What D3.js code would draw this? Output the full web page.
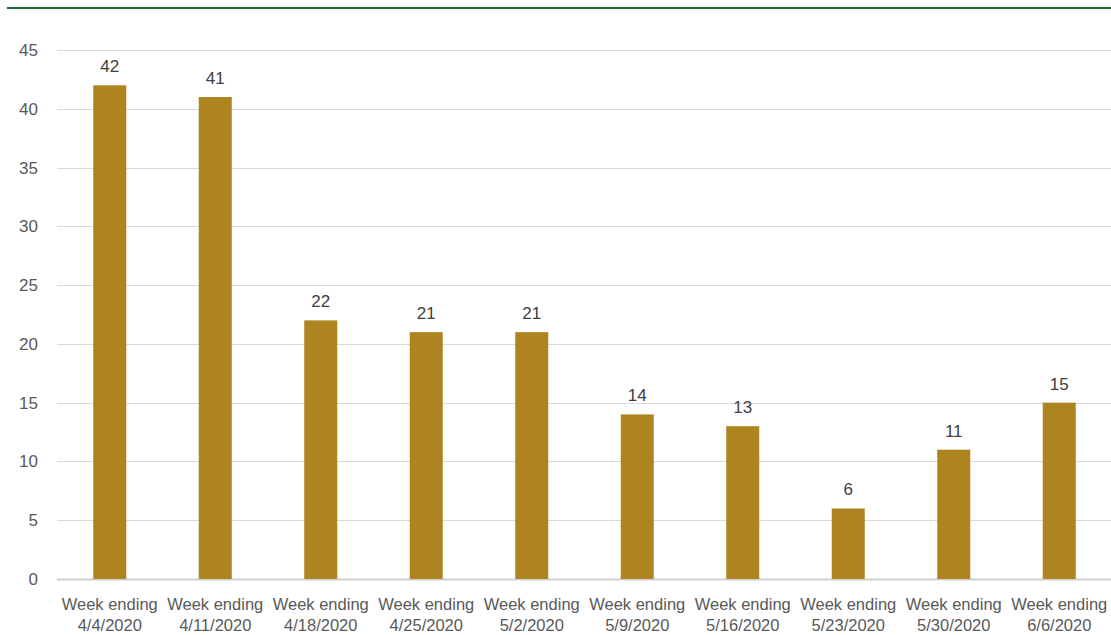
<!DOCTYPE html>
<html><head><meta charset="utf-8">
<script src="https://cdn.jsdelivr.net/npm/d3@7"></script>
<style>body{margin:0;background:#fff;}svg{display:block;}</style>
</head><body>
<svg id="c" width="1111" height="635"></svg>
<script>
const categories = ["Week ending|4/4/2020","Week ending|4/11/2020","Week ending|4/18/2020","Week ending|4/25/2020","Week ending|5/2/2020","Week ending|5/9/2020","Week ending|5/16/2020","Week ending|5/23/2020","Week ending|5/30/2020","Week ending|6/6/2020"];
const values = [42,41,22,21,21,14,13,6,11,15];
const yTicks = [0,5,10,15,20,25,30,35,40,45];

const svg = d3.select("#c");
const font = "'Liberation Sans', Arial, sans-serif";
const plotLeft = 57, plotRight = 1112, plotTop = 50, plotBottom = 579;

svg.append("line").attr("x1",7).attr("x2",1111).attr("y1",8).attr("y2",8)
  .attr("stroke","#1e6b3a").attr("stroke-width",2);

const x = d3.scaleBand().domain(categories).range([plotLeft,plotRight]).paddingInner(0.687).paddingOuter(0.3435);
const y = d3.scaleLinear().domain([0,45]).range([plotBottom,plotTop]);

const g = svg.append("g");
g.selectAll("line.grid").data(yTicks).join("line")
  .attr("x1",plotLeft).attr("x2",1111)
  .attr("y1",d=>Math.round(y(d))+0.5).attr("y2",d=>Math.round(y(d))+0.5)
  .attr("stroke",d=>d===0?"#d0d0d0":"#d9d9d9").attr("stroke-width",d=>d===0?2:1);

g.selectAll("text.yt").data(yTicks).join("text")
  .attr("x",38).attr("y",d=>y(d)).attr("dy","0.35em")
  .attr("text-anchor","end").attr("font-family",font).attr("font-size",17)
  .attr("fill","#595959").text(d=>d);

g.selectAll("rect").data(values).join("rect")
  .attr("x",(d,i)=>x(categories[i])).attr("width",x.bandwidth())
  .attr("y",d=>y(d)).attr("height",d=>y(0)-y(d))
  .attr("fill","#ae8421");

g.selectAll("text.v").data(values).join("text")
  .attr("x",(d,i)=>x(categories[i])+x.bandwidth()/2).attr("y",d=>y(d)-13)
  .attr("text-anchor","middle").attr("font-family",font).attr("font-size",17)
  .attr("fill","#404040").text(d=>d);

const xl = g.selectAll("text.xl").data(categories).join("text")
  .attr("x",d=>x(d)+x.bandwidth()/2).attr("y",610)
  .attr("text-anchor","middle").attr("font-family",font).attr("font-size",16.5)
  .attr("fill","#595959");
xl.each(function(d){
  const parts = d.split("|");
  const t = d3.select(this);
  parts.forEach((p,i)=>t.append("tspan").attr("x",t.attr("x")).attr("dy",i?21:0).text(p));
});
</script>
</body></html>
